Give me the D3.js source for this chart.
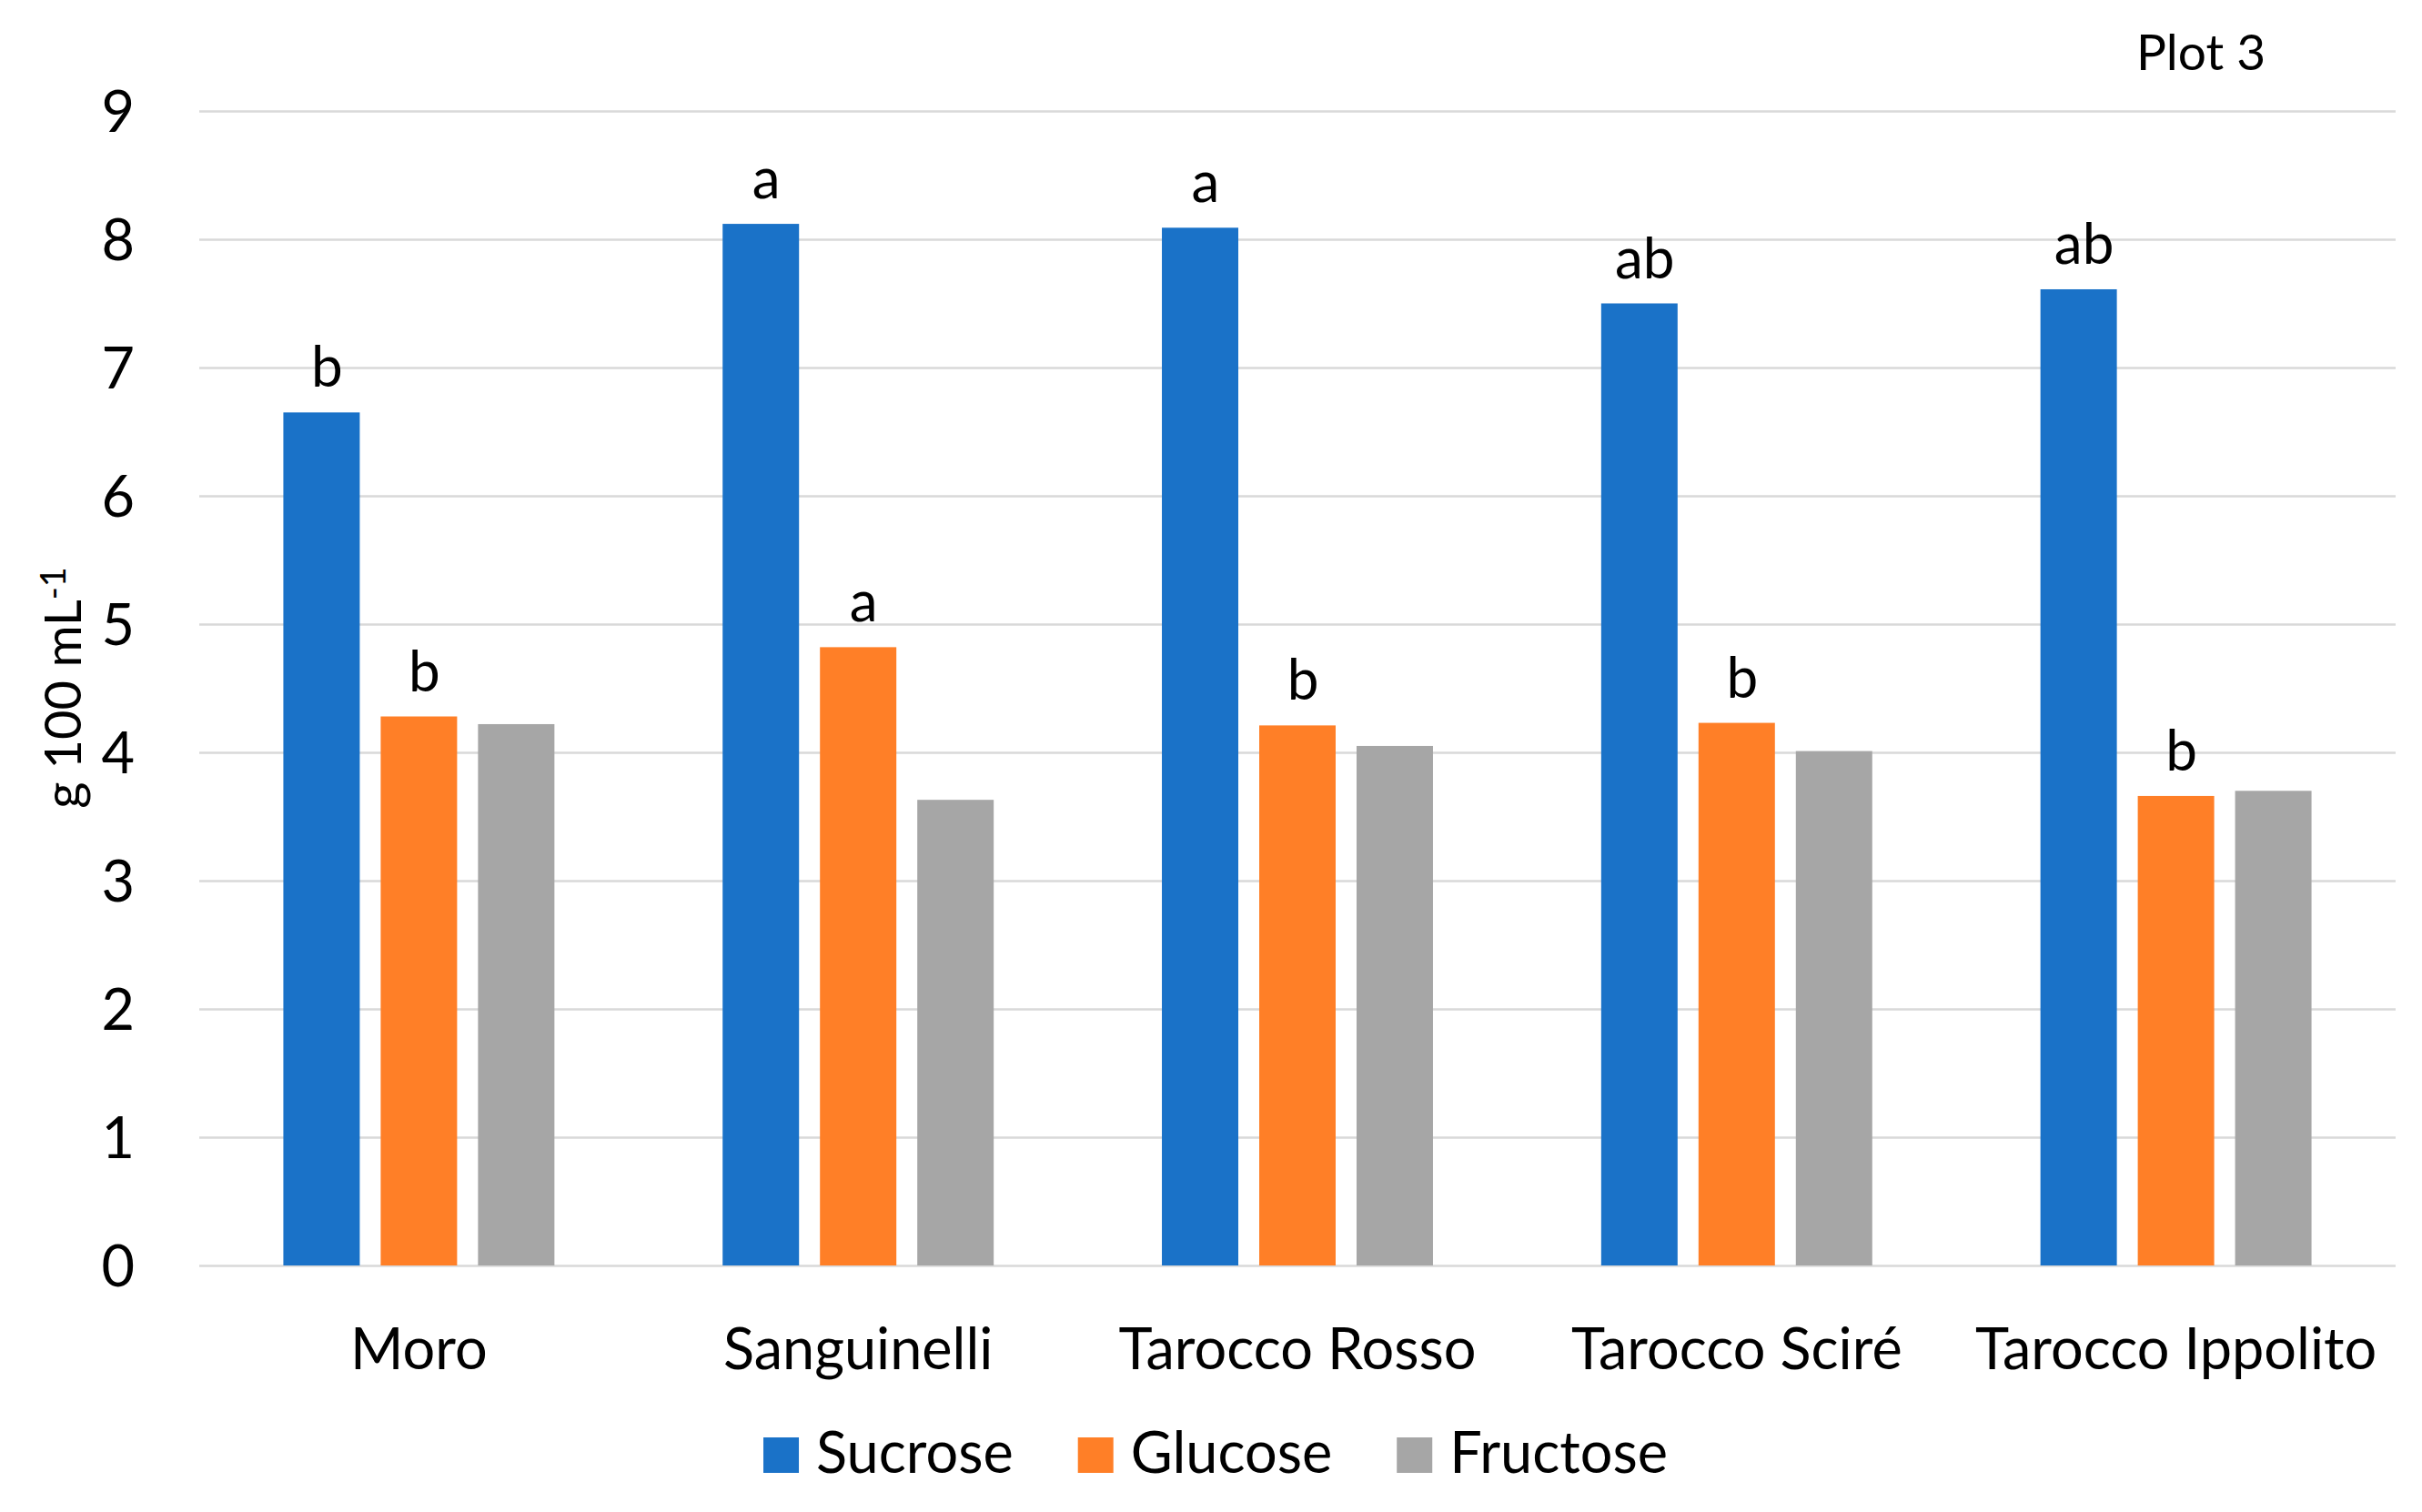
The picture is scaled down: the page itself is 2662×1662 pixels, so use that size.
<!DOCTYPE html>
<html>
<head>
<meta charset="utf-8">
<script src="https://cdn.jsdelivr.net/npm/d3@7"></script>
<style>
  body { margin: 0; background: #fff; }
  text { font-family: "Lato", "Open Sans", sans-serif; fill: #000; }
</style>
</head>
<body>
<svg id="chart" width="2662" height="1662"></svg>
<script>
// categories and series
const cultivars = ["Moro", "Sanguinelli", "Tarocco Rosso", "Tarocco Sciré", "Tarocco Ippolito"];
const sugars = ["Sucrose", "Glucose", "Fructose"];

// g 100 mL-1
const sucrose = [6.65, 8.12, 8.09, 7.50, 7.61];
const glucose = [4.28, 4.82, 4.21, 4.23, 3.66];
const fructose = [4.22, 3.63, 4.05, 4.01, 3.70];

// significance letters (fructose has none)
const sucroseLetters = ["b", "a", "a", "ab", "ab"];
const glucoseLetters = ["b", "a", "b", "b", "b"];
const fructoseLetters = ["", "", "", "", ""];

const yTicks = [0, 1, 2, 3, 4, 5, 6, 7, 8, 9];

const colors = ["#1A72C8", "#FF7F27", "#A6A6A6"];

const seriesValues = [sucrose, glucose, fructose];
const seriesLetters = [sucroseLetters, glucoseLetters, fructoseLetters];

const rows = cultivars.map((c, i) => ({
    cultivar: c,
    bars: sugars.map((s, j) => ({
        sugar: s,
        value: seriesValues[j][i],
        letter: seriesLetters[j][i],
    })),
}));

const margin = { top: 122, left: 219, right: 29, bottom: 271 };
const width = 2662 - margin.left - margin.right;
const height = 1662 - margin.top - margin.bottom;

const svg = d3.select("#chart");
const chart = svg.append("g")
    .attr("transform", `translate(${margin.left}, ${margin.top})`);

const x0 = d3.scaleBand().domain(cultivars).range([0, width]).padding(0);
const x1 = d3.scaleBand().domain(sugars).range([0, x0.bandwidth()])
    .paddingInner(0.215).paddingOuter(0.864);
const y = d3.scaleLinear().domain([0, 9]).range([height, 0]);
const color = d3.scaleOrdinal().domain(sugars).range(colors);

// grid + y labels
const yAxis = chart.append("g")
    .call(d3.axisLeft(y).tickValues(yTicks).tickSize(-width).tickPadding(71));
yAxis.select(".domain").remove();
yAxis.selectAll(".tick line").attr("stroke", "#D9D9D9").attr("stroke-width", 2.5);
yAxis.selectAll(".tick text")
    .style("font-size", "63px")
    .attr("dy", "0.36em")
    .attr("fill", "#000");

// category labels
const xAxis = chart.append("g")
    .attr("transform", `translate(0, ${height})`)
    .call(d3.axisBottom(x0).tickSize(0));
xAxis.select(".domain").remove();
xAxis.selectAll(".tick text")
    .style("font-size", "63px")
    .attr("y", 114)
    .attr("dy", 0)
    .attr("fill", "#000");

// bars
const groups = chart.selectAll(".group")
    .data(rows)
    .enter()
    .append("g")
    .attr("class", "group")
    .attr("transform", (d) => `translate(${x0(d.cultivar)}, 0)`);

groups.selectAll("rect")
    .data((d) => d.bars)
    .enter()
    .append("rect")
    .attr("x", (d) => x1(d.sugar))
    .attr("y", (d) => y(d.value))
    .attr("width", x1.bandwidth())
    .attr("height", (d) => height - y(d.value))
    .attr("fill", (d) => color(d.sugar));

groups.selectAll(".letter")
    .data((d) => d.bars.filter((b) => b.letter))
    .enter()
    .append("text")
    .attr("class", "letter")
    .attr("x", (d) => x1(d.sugar) + x1.bandwidth() / 2 + 6)
    .attr("y", (d) => y(d.value) - 28)
    .attr("text-anchor", "middle")
    .style("font-size", "62px")
    .text((d) => d.letter);

// y axis title
const yTitle = svg.append("text")
    .attr("transform", "translate(89, 756) rotate(-90)")
    .attr("text-anchor", "middle")
    .style("font-size", "56px");
yTitle.append("tspan").text("g 100 mL");
yTitle.append("tspan")
    .attr("dy", "-0.45em")
    .style("font-size", "38px")
    .text("-1");

// plot label
svg.append("text")
    .attr("x", 2419)
    .attr("y", 77)
    .attr("text-anchor", "middle")
    .style("font-size", "55px")
    .text("Plot 3");

// legend
const legend = svg.append("g").attr("transform", "translate(0, 1619)");
const items = legend.selectAll(".item")
    .data(sugars)
    .enter()
    .append("g")
    .attr("class", "item");

items.append("rect")
    .attr("y", -39)
    .attr("width", 39)
    .attr("height", 39)
    .attr("fill", (d) => color(d));

items.append("text")
    .attr("x", 58)
    .style("font-size", "63px")
    .text((d) => d);

let cursor = 0;
const offsets = [];
items.each(function () {
    offsets.push(cursor);
    const w = this.querySelector("text").getComputedTextLength();
    cursor += 58 + w + 71;
});
const legendWidth = cursor - 71;
const legendStart = 1336 - legendWidth / 2;
items.attr("transform", (d, i) => `translate(${legendStart + offsets[i]}, 0)`);
</script>
</body>
</html>
